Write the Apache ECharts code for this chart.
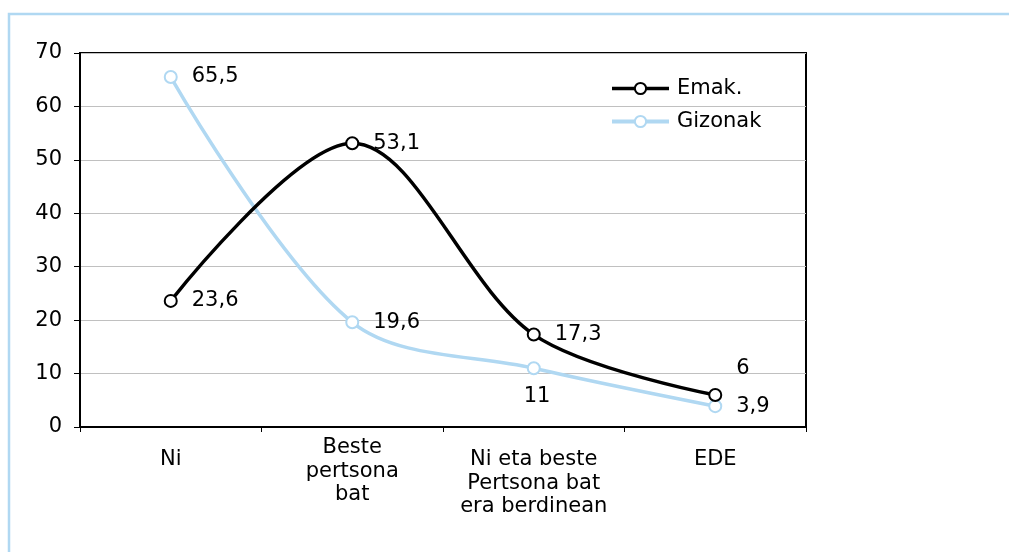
<!DOCTYPE html>
<html>
<head>
<meta charset="utf-8">
<script src="https://cdn.jsdelivr.net/npm/echarts@6/dist/echarts.min.js"></script>
<style>
html,body{margin:0;padding:0;background:#fff;}
#chart{width:1009px;height:552px;}
</style>
</head>
<body>
<div id="chart"></div>
<script>
var categories = ['Ni', 'Beste\npertsona\nbat', 'Ni eta beste\nPertsona bat\nera berdinean', 'EDE'];
var emak_values = [23.6, 53.1, 17.3, 6];
var gizon_values = [65.5, 19.6, 11, 3.9];
var y_ticks = [0, 10, 20, 30, 40, 50, 60, 70];

var font = 'DejaVu Sans, Verdana, sans-serif';
var fsize = 21;
var blue = '#b0d8f2';

function fmt(p){
	return String(p.value).replace('.', ',');
}

// "Beste pertsona bat" sits higher than the other labels in the picture
var x_data = [];
for (var i = 0; i < categories.length; i++){
	if (i === 1) x_data.push(categories[i]);
	else x_data.push({value: categories[i], textStyle: {padding: [12, 0, 0, 0]}});
}

var myChart = echarts.init(document.getElementById('chart'));
var option = {
	animation : false,
	graphic : [
		{
			type : 'rect',
			shape : {x: 9, y: 14, width: 1100, height: 600},
			style : {fill: 'none', stroke: blue, lineWidth: 2.5}
		}
	],
	legend : {
		orient : 'vertical',
		left : 605,
		top : 73,
		itemWidth : 57,
		itemHeight : 14,
		itemGap : 12,
		textStyle : {fontFamily: font, fontSize: fsize, color: '#000', padding: [0, 0, 0, 3]},
		data : [
			{name: 'Emak.', lineStyle: {width: 3.5}},
			{name: 'Gizonak', lineStyle: {width: 4}}
		]
	},
	grid : {
		left : 80, top : 53, right : 203, bottom : 125,
		show : true, borderColor : '#000', borderWidth : 2
	},
	xAxis : {
		type : 'category',
		data : x_data,
		boundaryGap : true,
		axisLine : {lineStyle: {color: '#000', width: 2}},
		axisTick : {show: true, interval: 0, length: 5, lineStyle: {color: '#000'}},
		axisLabel : {interval: 0, margin: 9, fontFamily: font, fontSize: fsize, color: '#000', lineHeight: 23.5}
	},
	yAxis : {
		type : 'value',
		min : y_ticks[0],
		max : y_ticks[y_ticks.length - 1],
		interval : 10,
		axisLine : {show: true, lineStyle: {color: '#000', width: 2}},
		axisTick : {show: true, length: 6, lineStyle: {color: '#000'}},
		splitLine : {lineStyle: {color: '#c0c0c0'}},
		axisLabel : {margin: 18, fontFamily: font, fontSize: fsize, color: '#000'}
	},
	series : [
		{
			name : 'Emak.',
			type : 'line',
			smooth : 0.33,
			data : emak_values,
			symbol : 'emptyCircle',
			symbolSize : 12,
			lineStyle : {color: '#000', width: 3.5},
			itemStyle : {color: '#000', borderColor: '#000', borderWidth: 2},
			label : {
				show : true, position : 'right', distance : 14,
				fontFamily : font, fontSize : fsize, color : '#000',
				formatter : fmt
			},
			labelLayout : function(p){
				if (p.dataIndex === 3) return {dx: 0, dy: -26};
				return {};
			},
			z : 3
		},
		{
			name : 'Gizonak',
			type : 'line',
			smooth : 0.33,
			data : gizon_values,
			symbol : 'emptyCircle',
			symbolSize : 12,
			lineStyle : {color: blue, width: 3.5},
			itemStyle : {color: blue, borderColor: blue, borderWidth: 2},
			label : {
				show : true, position : 'right', distance : 14,
				fontFamily : font, fontSize : fsize, color : '#000',
				formatter : fmt
			},
			labelLayout : function(p){
				if (p.dataIndex === 2) return {dx: -31, dy: 28};
				return {};
			},
			z : 2
		}
	]
};
myChart.setOption(option);
</script>
</body>
</html>
